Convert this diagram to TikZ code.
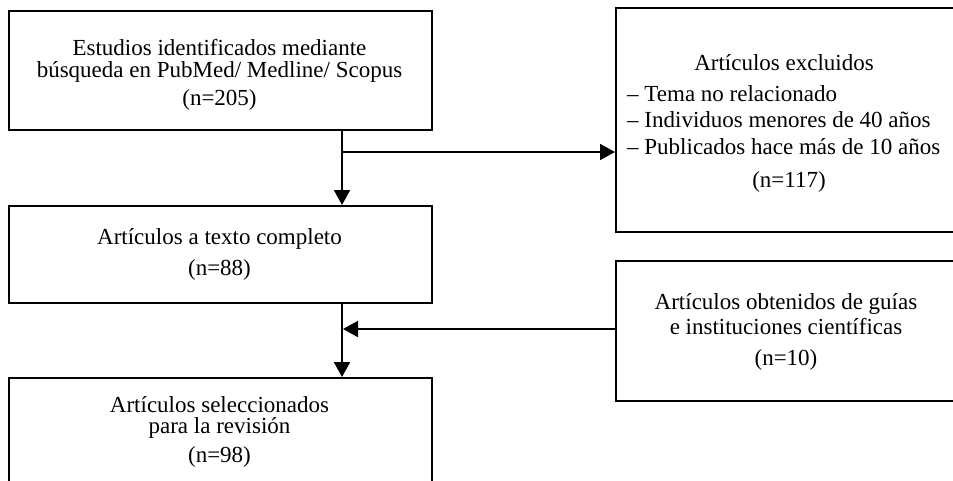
\documentclass[tikz,border=0pt]{standalone}
\usepackage{fontspec}
\setmainfont{Liberation Serif}
\usetikzlibrary{arrows.meta}

\tikzset{
  caja/.style={draw, line width=2.2pt, anchor=north west, inner sep=0pt},
  texto/.style={font=\fontsize{23}{22}\selectfont, align=center, inner sep=0pt, anchor=north},
  flecha/.style={line width=2pt, -{Triangle[length=15pt,width=16pt]}}
}

\begin{document}
\begin{tikzpicture}[x=1pt,y=-1pt]
\useasboundingbox (0,0) rectangle (953,480);
\clip (0,0) rectangle (953,480);
% columna izquierda
\node[caja, minimum width=423pt, minimum height=119pt] (A) at (8,10) {};
\node[caja, minimum width=423pt, minimum height=97pt] (B) at (8,205) {};
\node[caja, minimum width=423pt, minimum height=130pt] (C) at (8,377) {};
% columna derecha
\node[caja, minimum width=342pt, minimum height=224pt] (E) at (615,7) {};
\node[caja, minimum width=342pt, minimum height=140pt] (D) at (615,260) {};

\node[texto] (tA) at (219.5,39.5) {Estudios identificados mediante\\b\'usqueda en PubMed/ Medline/ Scopus\\[6pt](n=205)};
\node[texto] (tB) at (219.5,228.5) {Art\'iculos a texto completo\\[9pt](n=88)};
\node[texto] (tC) at (219.5,396.5) {Art\'iculos seleccionados\\[-1pt]para la revisi\'on\\[7pt](n=98)};
\node[texto] (tE) at (784,54.5) {Art\'iculos excluidos};
\node[texto, anchor=north west, align=left, font=\fontsize{23}{26.5}\selectfont] (lE) at (627,85)
  {-- Tema no relacionado\\-- Individuos menores de 40 a\~nos\\-- Publicados hace m\'as de 10 a\~nos};
\node[texto] (nE) at (789,171) {(n=117)};
\node[texto] (tD) at (786,293) {Art\'iculos obtenidos de gu\'ias\\[3pt]e instituciones cient\'ificas\\[9pt](n=10)};

% conectores
\coordinate (j1) at (342,152);
\coordinate (j2) at (342,329);
\draw[flecha] (A.south -| j1) -- (B.north -| j1);
\draw[flecha] (j1) -- (j1 -| E.west);
\draw[flecha] (B.south -| j2) -- (C.north -| j2);
\draw[flecha] (D.west |- j2) -- ([xshift=1pt]j2);
\end{tikzpicture}
\end{document}
